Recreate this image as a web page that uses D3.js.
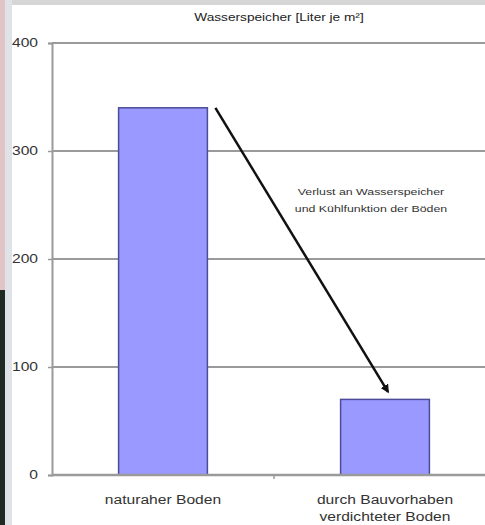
<!DOCTYPE html>
<html>
<head>
<meta charset="utf-8">
<script src="https://cdn.jsdelivr.net/npm/d3@7"></script>
<style>
body{margin:0;background:#fff;}
svg{display:block;font-family:Arial,"Liberation Sans",sans-serif;}
</style>
</head>
<body>
<svg width="485" height="525"></svg>
<script>
// data
var categories = [["naturaher Boden"], ["durch Bauvorhaben", "verdichteter Boden"]];
var values = [340, 70];
var yTicks = [0, 100, 200, 300, 400];
var title = "Wasserspeicher [Liter je m\u00b2]";
var note = ["Verlust an Wasserspeicher", "und K\u00fchlfunktion der B\u00f6den"];
var arrowFrom = [0, 340];   // category index, value
var arrowTo = [1, 77];

var svg = d3.select('svg');
var pLeft = 52, pRight = 496, pTop = 43, pBottom = 475;
var stretch = 1.3; // the picture is a bit wider than tall

// screenshot frame bits
svg.append('rect').attr('x',0).attr('y',0).attr('width',485).attr('height',5).attr('fill','#d6d6d6');
svg.append('rect').attr('x',0).attr('y',0).attr('width',5).attr('height',290).attr('fill','#e2c4c6');
svg.append('rect').attr('x',0).attr('y',290).attr('width',5).attr('height',235).attr('fill','#1e2a22');
svg.append('rect').attr('x',5).attr('y',0).attr('width',7).attr('height',525).attr('fill','#dfe3e8');

var x = d3.scaleBand().domain(d3.range(values.length)).range([pLeft, pRight]).paddingInner(0.6).paddingOuter(0.3);
var y = d3.scaleLinear().domain([0, 400]).range([pBottom, pTop]);

function widen(sel){
  sel.each(function(){
    var w = this.getComputedTextLength();
    d3.select(this).attr('textLength', w*stretch).attr('lengthAdjust','spacingAndGlyphs');
  });
}

// grid
svg.append('g').selectAll('line').data(yTicks.slice(1)).join('line')
  .attr('x1', pLeft).attr('x2', 500)
  .attr('y1', function(d){return y(d);}).attr('y2', function(d){return y(d);})
  .attr('stroke', '#9a9a9a').attr('stroke-width', 2);

// y axis
var ya = svg.append('g').attr('transform','translate(' + pLeft + ',0)')
  .call(d3.axisLeft(y).tickValues(yTicks).tickSize(4).tickPadding(10));
ya.select('.domain').attr('stroke','#9a9a9a').attr('stroke-width',2);
ya.selectAll('.tick line').attr('stroke','#9a9a9a').attr('stroke-width',1.5);
ya.selectAll('.tick text').attr('font-size',12).attr('fill','#333').attr('font-family','Arial,"Liberation Sans",sans-serif');
widen(ya.selectAll('.tick text'));

// bars
svg.append('g').selectAll('rect').data(values).join('rect')
  .attr('x', function(d,i){return x(i);})
  .attr('y', function(d){return y(d);})
  .attr('width', x.bandwidth())
  .attr('height', function(d){return y(0) - y(d);})
  .attr('fill', '#9999ff').attr('stroke', '#4c4c99').attr('stroke-width', 1.5);

// x axis
svg.append('line').attr('x1',pLeft).attr('x2',500).attr('y1',pBottom).attr('y2',pBottom)
  .attr('stroke','#9a9a9a').attr('stroke-width',2.5);
var mid = pLeft + (pRight-pLeft)/2;
svg.append('line').attr('x1',mid).attr('x2',mid).attr('y1',pBottom).attr('y2',pBottom+4)
  .attr('stroke','#9a9a9a').attr('stroke-width',1.5);

var lab = svg.append('g').selectAll('text').data(categories).join('text')
  .attr('text-anchor','middle').attr('font-size',12).attr('fill','#333')
  .attr('x', function(d,i){return x(i) + x.bandwidth()/2;})
  .attr('y', 504);
lab.each(function(d,i){
  var t = d3.select(this);
  d.forEach(function(s,j){
    var ts = t.append('tspan').attr('x', t.attr('x')).attr('y', 504 + j*17).text(s);
    widen(ts);
  });
});

// title
widen(svg.append('text').attr('x',279).attr('y',21).attr('text-anchor','middle')
  .attr('font-size',10.5).attr('fill','#222').text(title));

// arrow
svg.append('defs').append('marker').attr('id','ah').attr('viewBox','0 0 10 10')
  .attr('refX',8).attr('refY',5).attr('markerWidth',3.5).attr('markerHeight',3.5).attr('orient','auto')
  .append('path').attr('d','M0,0L10,5L0,10z').attr('fill','#111');
svg.append('line')
  .attr('x1', x(arrowFrom[0]) + x.bandwidth() + 8).attr('y1', y(arrowFrom[1]))
  .attr('x2', x(arrowTo[0]) + x.bandwidth()/2 + 3).attr('y2', y(arrowTo[1]))
  .attr('stroke','#111').attr('stroke-width',2.5).attr('marker-end','url(#ah)');

widen(svg.append('g').selectAll('text').data(note).join('text')
  .attr('x',371).attr('y',function(d,i){return 195 + i*17;}).attr('text-anchor','middle')
  .attr('font-size',9.5).attr('fill','#333').text(function(d){return d;}));
</script>
</body>
</html>
